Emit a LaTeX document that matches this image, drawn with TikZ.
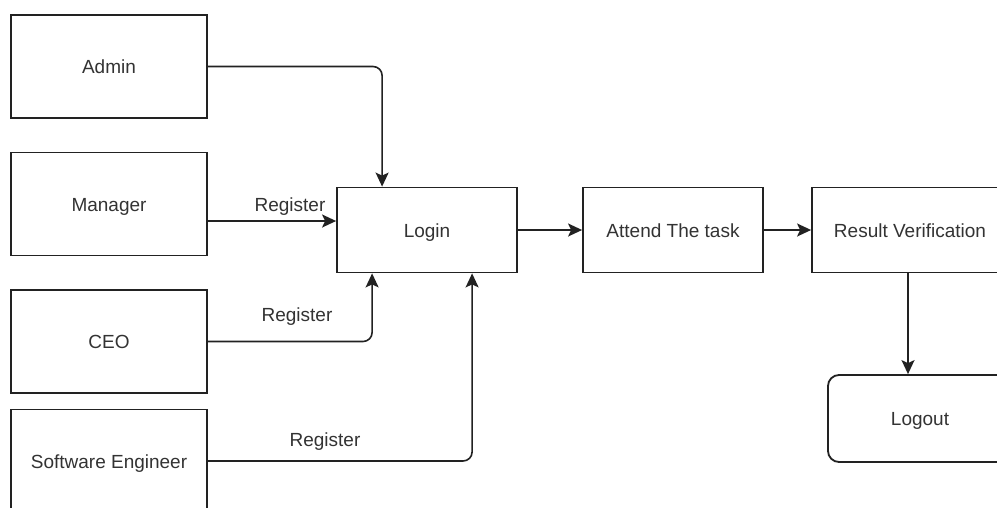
\documentclass[tikz,border=0pt]{standalone}
\usepackage{fontspec}
\setmainfont{Liberation Sans}
\usetikzlibrary{arrows.meta,calc}
\definecolor{ink}{HTML}{222222}
\definecolor{txt}{HTML}{333333}
\begin{document}
\begin{tikzpicture}[x=1pt,y=-1pt,
  box/.style={draw=ink,line width=1.8pt,rectangle,text=txt,font=\fontsize{19}{22}\selectfont,inner sep=0pt,text height=14pt,text depth=0pt},
  conn/.style={draw=ink,line width=1.6pt,-{Stealth[length=14pt,width=13pt,inset=3pt]}},
  lbl/.style={text=txt,font=\fontsize{19}{22}\selectfont,inner sep=0pt}]
\useasboundingbox (0,0) rectangle (997,507);
\clip (0,0) rectangle (997,507);
\fill[white] (0,0) rectangle (997,507);

% actors
\node[box,minimum width=196pt,minimum height=103pt] (admin) at (109,66.5) {Admin};
\node[box,minimum width=196pt,minimum height=103pt] (manager) at (109,204) {Manager};
\node[box,minimum width=196pt,minimum height=103pt] (ceo) at (109,341.5) {CEO};
\node[box,minimum width=196pt,minimum height=103pt] (se) at (109,461) {Software Engineer};

% process chain
\node[box,minimum width=180pt,minimum height=85pt] (login) at (427,230) {Login};
\node[box,minimum width=180pt,minimum height=85pt] (attend) at (673,230) {Attend The task};
\node[box,minimum width=196pt,minimum height=85pt] (result) at (910,230) {Result Verification};
\node[box,rounded corners=11pt,minimum width=184pt,minimum height=87pt] (logout) at (920,418.5) {Logout};

% connectors into login
\draw[conn,rounded corners=9pt] (admin.east) -| ([xshift=46pt]login.north west);
\draw[conn] ([yshift=-17pt]manager.east) -- ([yshift=-17pt]manager.east -| login.west);
\draw[conn,rounded corners=9pt] (ceo.east) -| ([xshift=36pt]login.south west);
\draw[conn,rounded corners=9pt] (se.east) -| ([xshift=136pt]login.south west);

% labels
\node[lbl] (r1) at (290,207) {Register};
\node[lbl] (r2) at (297,317) {Register};
\node[lbl] (r3) at (325,442) {Register};

% chain connectors
\draw[conn] (login.east) -- (attend.west);
\draw[conn] (attend.east) -- (result.west);
\draw[conn] (908,0 |- result.south) -- (908,0 |- logout.north);
\end{tikzpicture}
\end{document}
